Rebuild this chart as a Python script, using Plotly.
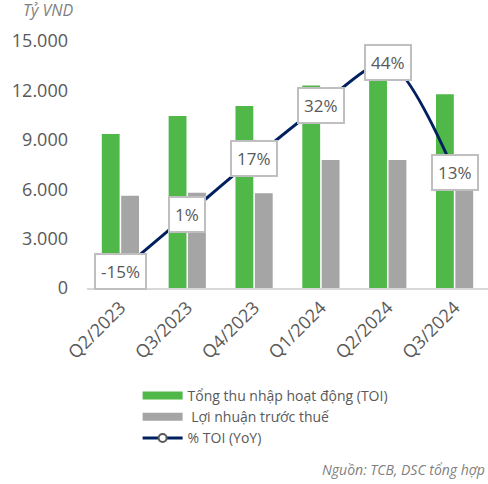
import plotly.graph_objects as go

categories = ["Q2/2023", "Q3/2023", "Q4/2023", "Q1/2024", "Q2/2024", "Q3/2024"]
toi = [9350, 10450, 11050, 12300, 12950, 11770]
pbt = [5600, 5790, 5750, 7780, 7780, 6200]
toi_yoy = [-15, 1, 17, 32, 44, 13]
yoy_labels = ["-15%", "1%", "17%", "32%", "44%", "13%"]

FONT = "Open Sans"
GREY = "#595959"
GREEN = "#50B848"
BARGREY = "#A5A5A5"
NAVY = "#002060"

fig = go.Figure()
fig.add_trace(go.Bar(x=categories, y=toi, name="Tổng thu nhập hoạt động (TOI)",
                     marker=dict(color=GREEN, line=dict(width=0)), showlegend=False))
fig.add_trace(go.Bar(x=categories, y=pbt, name=" Lợi nhuận trước thuế",
                     marker=dict(color=BARGREY, line=dict(width=0)), showlegend=False))
fig.add_trace(go.Scatter(x=categories, y=toi_yoy, name="% TOI (YoY)", yaxis="y2",
                         mode="lines+markers", showlegend=False,
                         line=dict(color=NAVY, width=3, shape="spline", smoothing=0.8),
                         marker=dict(symbol="circle", size=8, color="white",
                                     line=dict(color="#595959", width=2))))
# legend entries (wide swatches like the reference)
fig.add_trace(go.Scatter(x=[None], y=[None], mode="lines", name="Tổng thu nhập hoạt động (TOI)",
                         line=dict(color=GREEN, width=8)))
fig.add_trace(go.Scatter(x=[None], y=[None], mode="lines", name=" Lợi nhuận trước thuế",
                         line=dict(color=BARGREY, width=8)))
fig.add_trace(go.Scatter(x=[None], y=[None], mode="lines+markers", name="% TOI (YoY)",
                         line=dict(color=NAVY, width=3),
                         marker=dict(symbol="circle", size=8, color="white",
                                     line=dict(color="#595959", width=2))))

for c, v, t in zip(categories, toi_yoy, yoy_labels):
    fig.add_annotation(x=c, y=v, yref="y2", text=t, showarrow=False,
                       font=dict(family=FONT, size=17, color=GREY),
                       bgcolor="white", bordercolor="#BFBFBF", borderwidth=2,
                       borderpad=5)

fig.add_annotation(xref="paper", yref="paper", x=-0.165, y=1.125, xanchor="left",
                   yanchor="middle", text="<i>Tỷ VND</i>", showarrow=False,
                   font=dict(family=FONT, size=16, color="#7F7F7F"))
fig.add_annotation(xref="paper", yref="paper", x=0.998, y=-0.735, xanchor="right",
                   yanchor="middle", text="<i>Nguồn: TCB, DSC tổng hợp</i>", showarrow=False,
                   font=dict(family=FONT, size=14, color="#7F7F7F"))

fig.update_layout(
    width=488, height=484,
    margin=dict(l=87, r=0, t=41, b=196, autoexpand=False),
    paper_bgcolor="white", plot_bgcolor="white",
    separators=",.",
    barmode="group", bargap=0.42, bargroupgap=0.08,
    font=dict(family=FONT, color=GREY),
    showlegend=True,
    legend=dict(xref="container", yref="container", x=0.282, y=0.215,
                xanchor="left", yanchor="top",
                font=dict(family=FONT, size=14, color=GREY),
                bgcolor="rgba(0,0,0,0)", tracegroupgap=0, itemwidth=40),
    xaxis=dict(showline=True, linecolor="#D9D9D9", linewidth=2, showgrid=False,
               tickangle=-45, tickfont=dict(size=18, color=GREY), ticks="",
               automargin=False),
    yaxis=dict(range=[0, 15000], tickvals=[0, 3000, 6000, 9000, 12000, 15000],
               tickformat=",d", showgrid=False, zeroline=False, showline=False,
               tickfont=dict(size=18, color=GREY), ticklabelstandoff=18,
               automargin=False),
    yaxis2=dict(range=[-19.8, 50.2], overlaying="y", side="right", visible=False,
                showgrid=False, zeroline=False),
)

fig.write_html("out.html", config={"displayModeBar": False},
               post_script="document.body.style.margin='0';document.body.style.overflow='hidden';")
